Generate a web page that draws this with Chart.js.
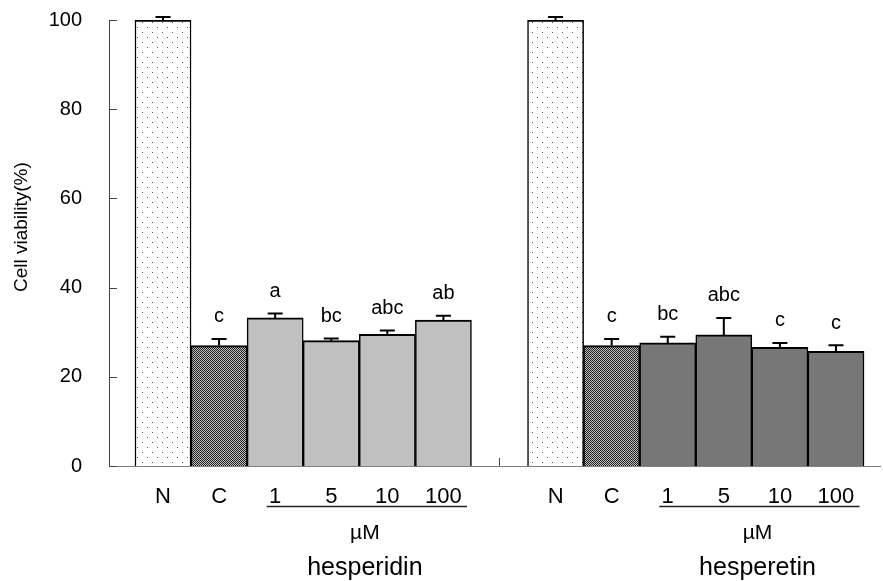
<!DOCTYPE html>
<html>
<head>
<meta charset="utf-8">
<script src="https://cdn.jsdelivr.net/npm/chart.js@4.4.1/dist/chart.umd.min.js"></script>
<style>
  html, body { margin: 0; padding: 0; background: #fff; }
  #wrap { width: 883px; height: 581px; }
</style>
</head>
<body>
<div id="wrap"><canvas id="c" width="883" height="581"></canvas></div>
<script>
// ---- data ----
const doseLabels = ['N', 'C', '1', '5', '10', '100'];
const groupNames = ['hesperidin', 'hesperetin'];
const unitLabel = 'µM';
const hesperidinMeans = [100, 27.0, 33.2, 28.1, 29.5, 32.7];
const hesperidinErrors = [0.7, 1.5, 1.0, 0.5, 0.9, 1.0];
const hesperidinLetters = ['', 'c', 'a', 'bc', 'abc', 'ab'];
const hesperetinMeans = [100, 27.0, 27.6, 29.4, 26.6, 25.7];
const hesperetinErrors = [0.7, 1.5, 1.4, 3.8, 1.0, 1.4];
const hesperetinLetters = ['', 'c', 'bc', 'abc', 'c', 'c'];
const yAxisTitle = 'Cell viability(%)';

// ---- build ----
const FONT = "'Liberation Sans', Arial, Helvetica, sans-serif";
const groupStart = [0, doseLabels.length + 1];
const groups = [
  { start: groupStart[0], means: hesperidinMeans, errs: hesperidinErrors, letters: hesperidinLetters, name: groupNames[0], fill: '#c0c0c0' },
  { start: groupStart[1], means: hesperetinMeans, errs: hesperetinErrors, letters: hesperetinLetters, name: groupNames[1], fill: '#777777' }
];
const tickLabels = [...doseLabels, '', ...doseLabels];

function dotPattern() {
  const c = document.createElement('canvas'); c.width = 10; c.height = 10;
  const g = c.getContext('2d');
  g.fillStyle = '#ffffff'; g.fillRect(0, 0, 10, 10);
  g.fillStyle = '#555555'; g.fillRect(2, 2, 1, 1); g.fillRect(7, 7, 1, 1);
  return g.createPattern(c, 'repeat');
}
function checkPattern() {
  const c = document.createElement('canvas'); c.width = 2; c.height = 2;
  const g = c.getContext('2d');
  g.fillStyle = '#bdbdbd'; g.fillRect(0, 0, 2, 2);
  g.fillStyle = '#222222'; g.fillRect(0, 0, 1, 1); g.fillRect(1, 1, 1, 1);
  return g.createPattern(c, 'repeat');
}
const patN = dotPattern();
const patC = checkPattern();

const points = [], colors = [];
groups.forEach(gr => {
  gr.means.forEach((m, i) => {
    points.push({ x: gr.start + i, y: m });
    colors.push(i === 0 ? patN : (i === 1 ? patC : gr.fill));
  });
});

const annotations = {
  id: 'annotations',
  afterDatasetsDraw(chart) {
    const { ctx, scales: { x, y }, chartArea } = chart;
    ctx.save();
    // inside y ticks
    ctx.strokeStyle = '#444'; ctx.lineWidth = 1;
    y.ticks.forEach(t => {
      const py = Math.round(y.getPixelForValue(t.value)) + 0.5;
      ctx.beginPath(); ctx.moveTo(chartArea.left, py); ctx.lineTo(chartArea.left + 8, py); ctx.stroke();
    });
    // separator tick on x axis
    const sx = Math.round(x.getPixelForValue(doseLabels.length)) + 0.5;
    ctx.beginPath(); ctx.moveTo(sx, chartArea.bottom); ctx.lineTo(sx, chartArea.bottom - 8); ctx.stroke();

    // error bars + letters
    ctx.strokeStyle = '#000'; ctx.lineWidth = 2;
    ctx.fillStyle = '#000';
    ctx.font = `20px ${FONT}`;
    ctx.textAlign = 'center'; ctx.textBaseline = 'middle';
    groups.forEach(gr => {
      gr.means.forEach((m, i) => {
        const px = x.getPixelForValue(gr.start + i);
        const base = y.getPixelForValue(m);
        const top = y.getPixelForValue(m + gr.errs[i]);
        ctx.beginPath();
        ctx.moveTo(px, base); ctx.lineTo(px, top);
        ctx.moveTo(px - 7.5, top); ctx.lineTo(px + 7.5, top);
        ctx.stroke();
        if (gr.letters[i]) ctx.fillText(gr.letters[i], px, top - 22);
      });
    });

    // group captions
    groups.forEach(gr => {
      const x1 = x.getPixelForValue(gr.start + 2 - 0.15);
      const x2 = x.getPixelForValue(gr.start + 5 + 0.42);
      const ly = chartArea.bottom + 40.5;
      ctx.strokeStyle = '#222'; ctx.lineWidth = 1.5;
      ctx.beginPath(); ctx.moveTo(x1, ly); ctx.lineTo(x2, ly); ctx.stroke();
      const cx = x.getPixelForValue(gr.start + 3.6);
      ctx.font = `21px ${FONT}`;
      ctx.fillText(unitLabel, cx, chartArea.bottom + 67);
      ctx.font = `25px ${FONT}`;
      ctx.fillText(gr.name, cx, chartArea.bottom + 102);
    });
    ctx.restore();
  }
};

new Chart(document.getElementById('c'), {
  type: 'bar',
  data: {
    datasets: [{
      data: points,
      backgroundColor: colors,
      borderColor: '#000',
      borderWidth: { top: 2, left: 1.5, right: 1.5, bottom: 0 },
      borderSkipped: false,
      barPercentage: 1,
      categoryPercentage: 1
    }]
  },
  options: {
    responsive: false,
    animation: false,
    devicePixelRatio: 1,
    layout: { padding: { top: 20, right: 3, left: 0, bottom: 0 } },
    plugins: { legend: { display: false }, tooltip: { enabled: false } },
    scales: {
      x: {
        type: 'linear',
        offset: false,
        min: -0.963,
        max: 12.785,
        grid: { display: false, drawTicks: false },
        border: { display: true, color: '#808080', width: 1 },
        ticks: {
          stepSize: 1, includeBounds: false, autoSkip: false, maxRotation: 0, minRotation: 0,
          padding: 18, color: '#000', font: { family: FONT, size: 22 },
          callback: v => (Number.isInteger(v) && tickLabels[v] !== undefined) ? tickLabels[v] : ''
        },
        afterFit: s => { s.height = 115; s.paddingLeft = 0; s.paddingRight = 0; }
      },
      y: {
        min: 0, max: 100,
        grid: { display: false, drawTicks: false },
        border: { display: true, color: '#444', width: 1 },
        ticks: { stepSize: 20, padding: 27, color: '#000', font: { family: FONT, size: 20 } },
        title: { display: true, text: '\u00a0'.repeat(6) + yAxisTitle, color: '#000', font: { family: FONT, size: 19 }, padding: { top: 10, bottom: 0 } },
        afterFit: s => { s.width = 109; s.paddingTop = 0; s.paddingBottom = 0; }
      }
    }
  },
  plugins: [annotations]
});
</script>
</body>
</html>
